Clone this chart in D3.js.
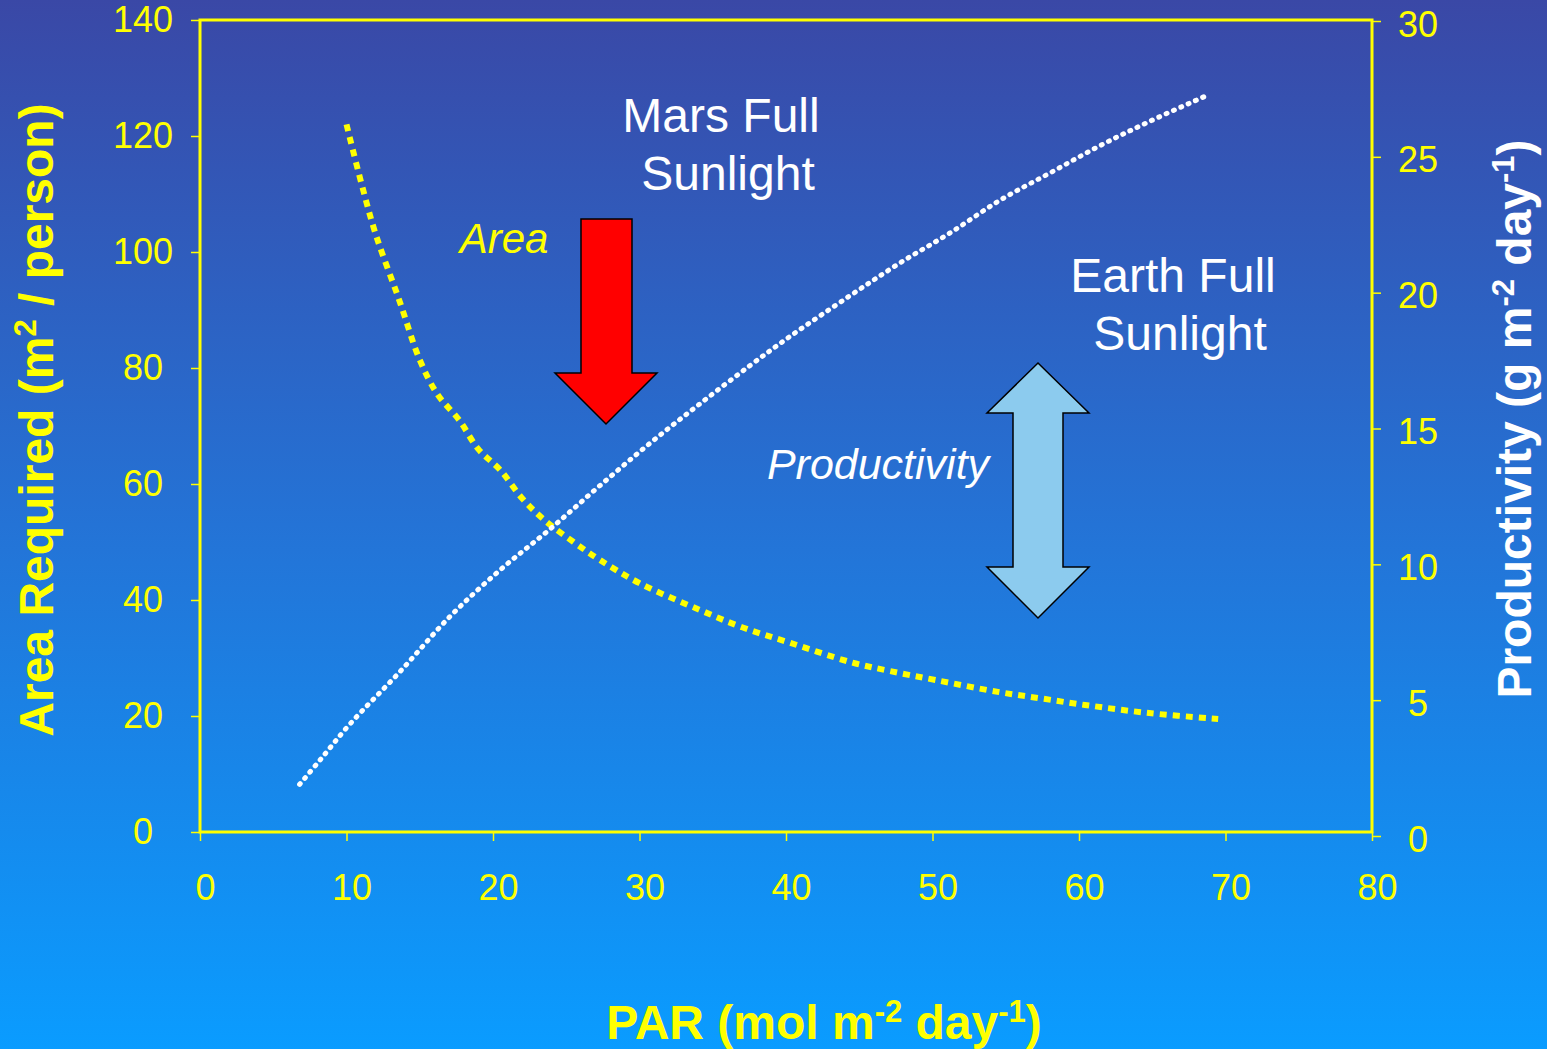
<!DOCTYPE html>
<html>
<head>
<meta charset="utf-8">
<script src="https://d3js.org/d3.v7.min.js"></script>
<style>
    body { margin: 0; overflow: hidden; }
    svg { display: block; font-family: "Liberation Sans", Arial, sans-serif; }
</style>
</head>
<body>
<svg width="1547" height="1049"></svg>
<script>
    // PAR (mol m-2 day-1) vs area required (m2 / person), left axis
    const areaPAR = [10, 11, 12, 13.6, 15, 16.2, 17.7, 19, 20.5, 22, 23.5, 25.5, 27.3, 30, 34.1, 37, 40.3, 44.4, 47, 50.2, 54.6, 57.5, 60.4, 64.8, 69.5];
    const areaValues = [122, 112, 103, 91.7, 81.4, 75.5, 71, 66, 62.4, 57.5, 53.8, 50, 46.9, 42.9, 38.3, 35.3, 32.6, 29.3, 27.8, 26.2, 24.1, 23, 21.9, 20.5, 19.5];

    // PAR vs productivity (g m-2 day-1), right axis
    const prodPAR = [6.8, 8.2, 10.2, 13.65, 17.1, 20.5, 23.9, 27.3, 30.7, 34.1, 37.5, 40.3, 44.4, 47.8, 51.2, 54.6, 58.0, 61.4, 64.8, 68.9];
    const prodValues = [1.9, 2.8, 4.1, 6.05, 8.1, 9.8, 11.3, 12.9, 14.45, 15.9, 17.3, 18.4, 19.9, 21.1, 22.2, 23.4, 24.4, 25.4, 26.3, 27.3];

    const xTicks = [0, 10, 20, 30, 40, 50, 60, 70, 80];
    const leftTicks = [0, 20, 40, 60, 80, 100, 120, 140];
    const rightTicks = [0, 5, 10, 15, 20, 25, 30];

    const svg = d3.select("svg");
    const W = 1547, H = 1049;

    // background gradient
    const defs = svg.append("defs");
    const grad = defs.append("linearGradient").attr("id", "bg")
        .attr("x1", 0).attr("y1", 0).attr("x2", 0).attr("y2", 1);
    grad.append("stop").attr("offset", "0%").attr("stop-color", "#3a48a6");
    grad.append("stop").attr("offset", "50%").attr("stop-color", "#2473d6");
    grad.append("stop").attr("offset", "100%").attr("stop-color", "#0a9cff");
    svg.append("rect").attr("width", W).attr("height", H).attr("fill", "url(#bg)");

    const x = d3.scaleLinear().domain([0, 80]).range([200, 1372]);
    const yL = d3.scaleLinear().domain([0, 140]).range([832, 20]);
    const yR = d3.scaleLinear().domain([0, 30]).range([836, 21]);

    const yellow = "#ffff00";

    // axes
    const xAxis = svg.append("g").attr("transform", "translate(0,832)")
        .call(d3.axisBottom(x).tickValues(xTicks).tickSize(9).tickPadding(33));
    const lAxis = svg.append("g").attr("transform", "translate(200,0)")
        .call(d3.axisLeft(yL).tickValues(leftTicks).tickSize(9));
    const rAxis = svg.append("g").attr("transform", "translate(1372,0)")
        .call(d3.axisRight(yR).tickValues(rightTicks).tickSize(9));

    [xAxis, lAxis, rAxis].forEach(g => {
        g.select(".domain").remove();
        g.selectAll(".tick line").attr("stroke", yellow).attr("stroke-width", 1.5);
        g.selectAll(".tick text").attr("fill", yellow)
            .style("font-family", "'Liberation Sans', Arial, sans-serif")
            .style("font-size", "36px");
    });
    xAxis.selectAll(".tick text").attr("dx", 5);
    // tick labels on both value axes sit centred in a column
    lAxis.selectAll(".tick text").attr("text-anchor", "middle").attr("x", -57);
    rAxis.selectAll(".tick text").attr("text-anchor", "middle").attr("x", 46).attr("dy", "0.42em");

    // plot frame
    svg.append("rect")
        .attr("x", x(0)).attr("y", yL(140))
        .attr("width", x(80) - x(0)).attr("height", yL(0) - yL(140))
        .attr("fill", "none").attr("stroke", yellow).attr("stroke-width", 3);

    // curves
    const areaLine = d3.line().curve(d3.curveCatmullRom)
        .x((d, i) => x(areaPAR[i])).y(d => yL(d));
    svg.append("path").datum(areaValues)
        .attr("d", areaLine)
        .attr("fill", "none").attr("stroke", yellow)
        .attr("stroke-width", 6).attr("stroke-dasharray", "7,6");

    const prodLine = d3.line().curve(d3.curveCatmullRom)
        .x((d, i) => x(prodPAR[i])).y(d => yR(d));
    svg.append("path").datum(prodValues)
        .attr("d", prodLine)
        .attr("fill", "none").attr("stroke", "#ffffff")
        .attr("stroke-width", 5).attr("stroke-linecap", "round")
        .attr("stroke-dasharray", "1,7");

    // arrows
    svg.append("path")
        .attr("d", "M581,219 L632,219 L632,373 L657,373 L606,424 L555,373 L581,373 Z")
        .attr("fill", "#ff0000").attr("stroke", "#000").attr("stroke-width", 1.5);
    svg.append("path")
        .attr("d", "M1038,363 L1089,413 L1063,413 L1063,567 L1089,567 L1038,618 L987,567 L1013,567 L1013,413 L987,413 Z")
        .attr("fill", "#8ccbee").attr("stroke", "#000").attr("stroke-width", 1.5);

    // annotations
    const note = (tx, ty, txt, opts) => svg.append("text")
        .attr("x", tx).attr("y", ty).attr("text-anchor", "middle")
        .attr("fill", opts.fill || "#fff")
        .style("font-size", (opts.size || 48) + "px")
        .style("font-style", opts.italic ? "italic" : "normal")
        .text(txt);
    note(721, 132, "Mars Full", {});
    note(728, 190, "Sunlight", {});
    note(1173, 292, "Earth Full", {});
    note(1180, 350, "Sunlight", {});
    note(504, 253, "Area", {italic: true, fill: yellow, size: 42});
    note(878, 479, "Productivity", {italic: true, size: 43});

    // axis titles with superscripts
    const title = (g, parts, fill) => {
        const t = g.append("text").attr("text-anchor", "middle").attr("fill", fill)
            .style("font-size", "48px").style("font-weight", "bold");
        parts.forEach(p => {
            const s = t.append("tspan").text(p[0]);
            if (p[1]) s.attr("baseline-shift", "super").style("font-size", "31px");
        });
        return t;
    };
    title(svg.append("g").attr("transform", "translate(824,1039)"),
        [["PAR (mol m"], ["-2", true], [" day"], ["-1", true], [")"]], yellow);
    title(svg.append("g").attr("transform", "translate(53,420) rotate(-90)"),
        [["Area Required (m"], ["2", true], [" / person)"]], yellow);
    title(svg.append("g").attr("transform", "translate(1531,419) rotate(-90)"),
        [["Productivity (g m"], ["-2", true], [" day"], ["-1", true], [")"]], "#ffffff");
</script>
</body>
</html>
